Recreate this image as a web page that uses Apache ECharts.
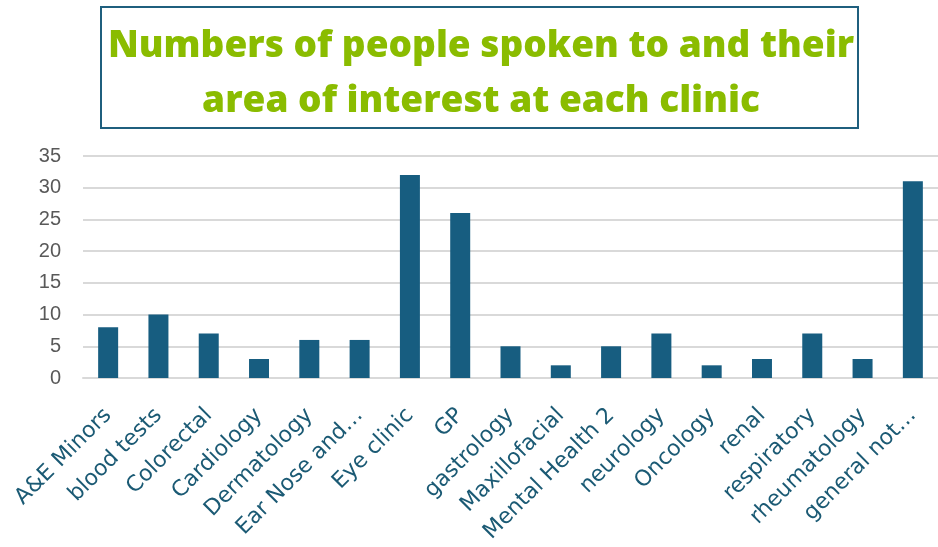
<!DOCTYPE html>
<html>
<head>
<meta charset="utf-8">
<script src="https://cdn.jsdelivr.net/npm/echarts@6/dist/echarts.min.js"></script>
<style>
  html, body { margin: 0; padding: 0; background: #ffffff; }
  #chart { width: 938px; height: 547px; }
</style>
</head>
<body>
<div id="chart"></div>
<script>
// Clinic categories and number of people spoken to at each
const clinics = [
  'A&E Minors', 'blood tests', 'Colorectal', 'Cardiology', 'Dermatology',
  'Ear Nose and…', 'Eye clinic', 'GP', 'gastrology', 'Maxillofacial',
  'Mental Health 2', 'neurology', 'Oncology', 'renal', 'respiratory',
  'rheumatology', 'general not…'
];
const peopleSpoken = [8, 10, 7, 3, 6, 6, 32, 26, 5, 2, 5, 7, 2, 3, 7, 3, 31];
const yTicks = { min: 0, max: 35, interval: 5 };

const chart = echarts.init(document.getElementById('chart'), null, { renderer: 'canvas' });

chart.setOption({
  animation: false,
  backgroundColor: '#ffffff',
  title: {
    text: 'Numbers of people spoken to and their\narea of interest at each clinic',
    left: 476,
    top: 14,
    textAlign: 'center',
    textStyle: {
      color: '#8abc00',
      fontFamily: 'Open Sans',
      fontWeight: 800,
      fontSize: 37,
      lineHeight: 55
    }
  },
  graphic: [{
    type: 'rect',
    shape: { x: 101, y: 7, width: 757, height: 121 },
    style: { fill: 'none', stroke: '#1f5f7e', lineWidth: 2 },
    z: -1
  }],
  grid: { left: 83, right: 0, top: 156, bottom: 169, containLabel: false },
  xAxis: {
    type: 'category',
    data: clinics,
    axisLine: { show: true, lineStyle: { color: '#d9d9d9', width: 2 } },
    axisTick: { show: false },
    axisLabel: {
      interval: 0,
      rotate: 45,
      margin: 34,
      color: '#1b5a74',
      fontFamily: 'DejaVu Sans',
      fontSize: 22
    }
  },
  yAxis: {
    type: 'value',
    min: yTicks.min,
    max: yTicks.max,
    interval: yTicks.interval,
    axisLine: { show: false },
    axisTick: { show: false },
    splitLine: { lineStyle: { color: '#d9d9d9', width: 2 } },
    axisLabel: {
      color: '#595959',
      fontFamily: 'Liberation Sans',
      fontSize: 20,
      margin: 22
    }
  },
  series: [{
    type: 'bar',
    data: peopleSpoken,
    barWidth: 20,
    itemStyle: { color: '#175d80' }
  }]
});
</script>
</body>
</html>
